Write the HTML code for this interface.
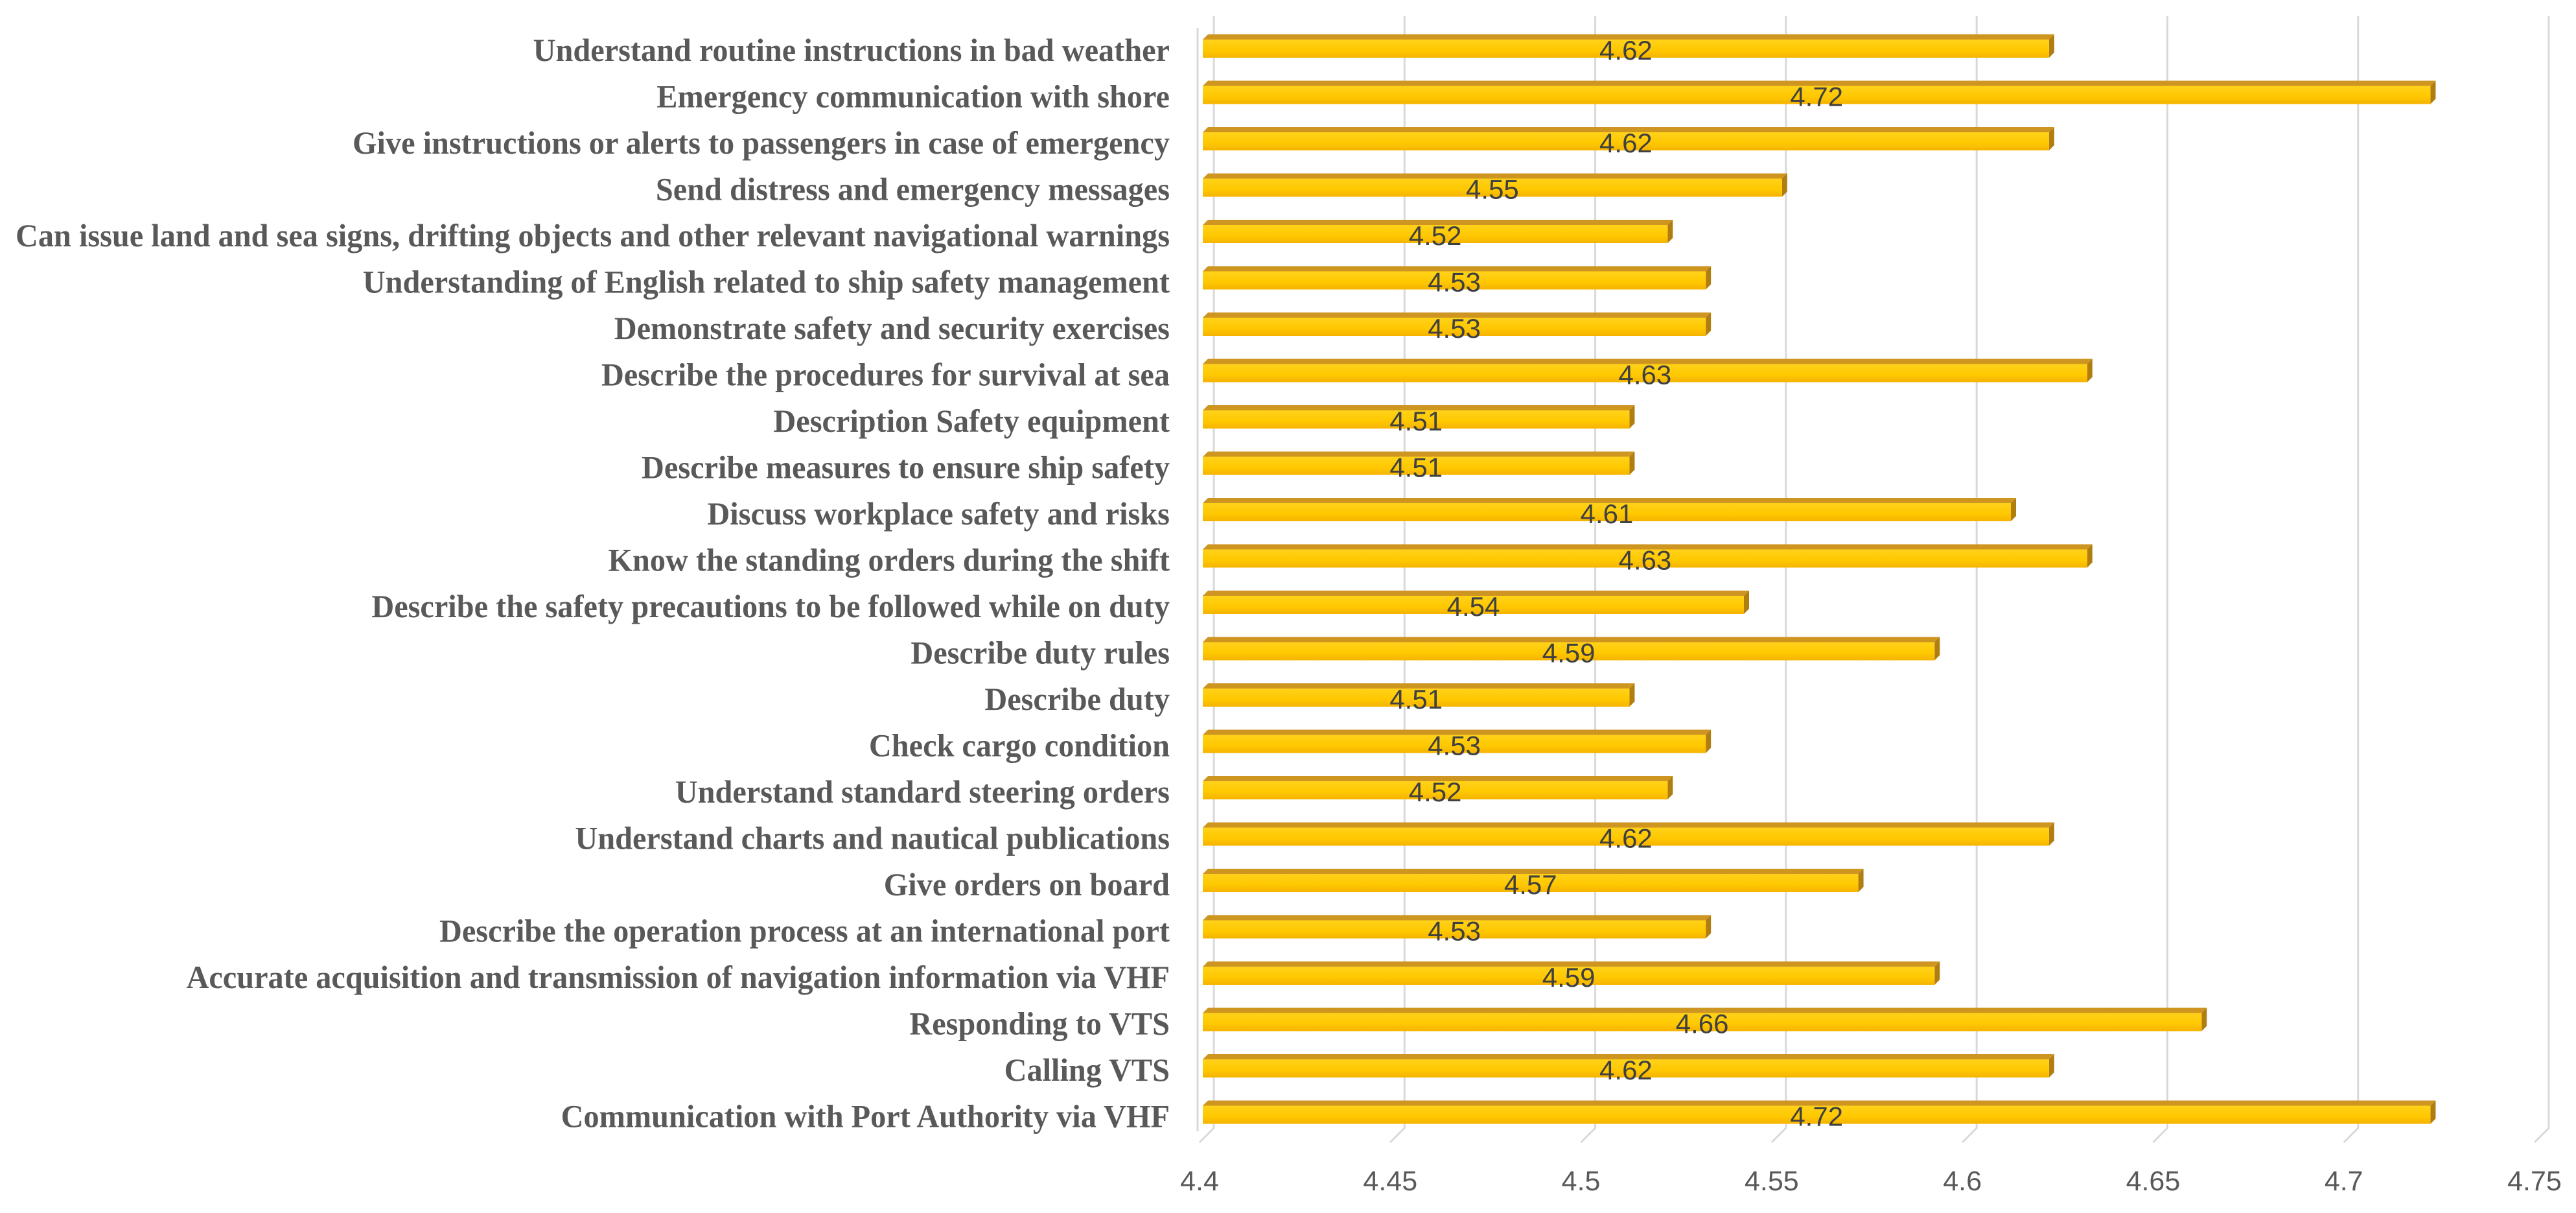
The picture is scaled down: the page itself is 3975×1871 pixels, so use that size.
<!DOCTYPE html>
<html><head><meta charset="utf-8"><style>
html,body{margin:0;padding:0;background:#fff;}
svg{display:block;}
</style></head><body>
<svg id="chart" width="3975" height="1871" viewBox="0 0 3975 1871" xmlns="http://www.w3.org/2000/svg">
<defs>
<linearGradient id="front" x1="0" y1="0" x2="0" y2="1">
<stop offset="0" stop-color="#ffd21a"/><stop offset="0.6" stop-color="#ffc800"/><stop offset="1" stop-color="#f5b300"/>
</linearGradient>
</defs>
<g id="grid"></g><g id="bars"></g><g id="labels"></g><g id="ticks"></g>
</svg>
<script>
const categories = [
"Understand routine instructions in bad weather",
"Emergency communication with shore",
"Give instructions or alerts to passengers in case of emergency",
"Send distress and emergency messages",
"Can issue land and sea signs, drifting objects and other relevant navigational warnings",
"Understanding of English related to ship safety management",
"Demonstrate safety and security exercises",
"Describe the procedures for survival at sea",
"Description Safety equipment",
"Describe measures to ensure ship safety",
"Discuss workplace safety and risks",
"Know the standing orders during the shift",
"Describe the safety precautions to be followed while on duty",
"Describe duty rules",
"Describe duty",
"Check cargo condition",
"Understand standard steering orders",
"Understand charts and nautical publications",
"Give orders on board",
"Describe the operation process at an international port",
"Accurate acquisition and transmission of navigation information via VHF",
"Responding to VTS",
"Calling VTS",
"Communication with Port Authority via VHF"
];
const values = [4.62,4.72,4.62,4.55,4.52,4.53,4.53,4.63,4.51,4.51,4.61,4.63,4.54,4.59,4.51,4.53,4.52,4.62,4.57,4.53,4.59,4.66,4.62,4.72];
const tickValues = [4.4,4.45,4.5,4.55,4.6,4.65,4.7,4.75];
const tickLabels = ["4.4","4.45","4.5","4.55","4.6","4.65","4.7","4.75"];

const NS="http://www.w3.org/2000/svg";
const xMin=4.4, xMax=4.75, pxLeft=1873, pxRight=3933;
function x(v){return pxLeft+(v-xMin)/(xMax-xMin)*(pxRight-pxLeft);}
const barTop0=53, pitch=71.5, barH=36;
function yTop(i){return barTop0+i*pitch;}
function mk(tag,attrs,parent){const e=document.createElementNS(NS,tag);for(const k in attrs)e.setAttribute(k,attrs[k]);parent.appendChild(e);return e;}
const grid=document.getElementById('grid'),bars=document.getElementById('bars'),labels=document.getElementById('labels'),ticks=document.getElementById('ticks');

tickValues.forEach((t,i)=>{
  const gx=x(t);
  const g=mk('path',{d:`M${gx} 25 L${gx} 1740 L${gx-22} 1762`,stroke:'#d9d9d9','stroke-width':3,fill:'none'},grid);
  
  
  const tl=mk('text',{x:gx-22,y:1836,'text-anchor':'middle','font-family':'Liberation Sans, sans-serif','font-size':43,fill:'#595959'},ticks);
  tl.textContent=tickLabels[i];
  
  
});
mk('line',{x1:1848,y1:43,x2:1848,y2:1745,stroke:'#d9d9d9','stroke-width':3},grid);

const x0=1856;
categories.forEach((c,i)=>{
  const yt=yTop(i), xe=x(values[i])-6;
  const g=mk('g',{},bars);
  
  
  mk('polygon',{points:`${x0},${yt+8} ${x0+8},${yt} ${xe+8},${yt} ${xe},${yt+8}`,fill:'#cf9521'},g);
  mk('polygon',{points:`${xe},${yt+8} ${xe+8},${yt} ${xe+8},${yt+barH-8} ${xe},${yt+barH}`,fill:'#b07d10'},g);
  mk('rect',{x:x0,y:yt+8,width:xe-x0,height:barH-8,fill:'url(#front)'},g);
  const v=mk('text',{x:(x0+xe)/2,y:yt+39,'text-anchor':'middle','font-family':'Liberation Sans, sans-serif','font-size':42,fill:'#404040'},g);
  v.textContent=values[i].toFixed(2);
  
  
  const l=mk('text',{x:1805,y:yt+41,'text-anchor':'end','font-family':'Liberation Serif, serif','font-weight':'bold','font-size':50,fill:'#595959'},labels);
  l.textContent=c;
  
  
});
const ls=labels.querySelectorAll('text');
const k=1781/ls[4].getComputedTextLength();
ls.forEach(t=>{const w=t.getComputedTextLength();t.setAttribute('textLength',w*k);t.setAttribute('lengthAdjust','spacingAndGlyphs');});
</script>
</body></html>
